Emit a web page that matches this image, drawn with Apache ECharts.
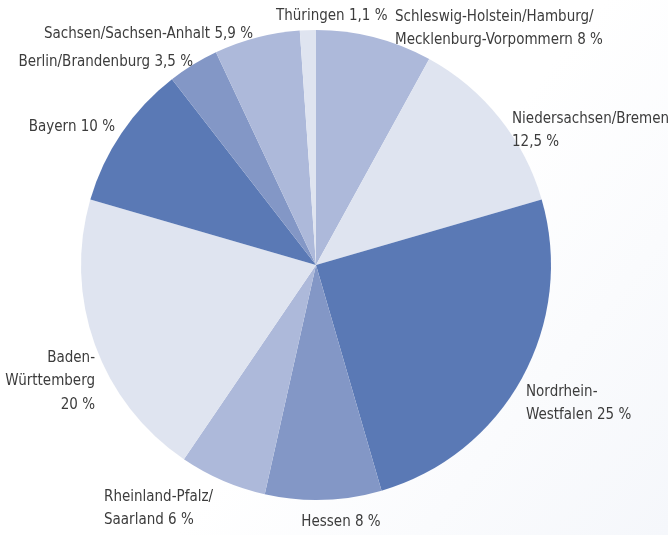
<!DOCTYPE html>
<html>
<head>
<meta charset="utf-8">
<script src="https://cdn.jsdelivr.net/npm/echarts@6/dist/echarts.min.js"></script>
<style>
html,body{margin:0;padding:0;background:#fff;}
#chart{width:668px;height:535px;}
</style>
</head>
<body>
<div id="chart"></div>
<script>
// Data
const categories = [
  'Schleswig-Holstein/Hamburg/\nMecklenburg-Vorpommern',
  'Niedersachsen/Bremen\n',
  'Nordrhein-\nWestfalen',
  'Hessen',
  'Rheinland-Pfalz/\nSaarland',
  'Baden-\nWürttemberg\n',
  'Bayern',
  'Berlin/Brandenburg',
  'Sachsen/Sachsen-Anhalt',
  'Thüringen'
];
const values = [8, 12.5, 25, 8, 6, 20, 10, 3.5, 5.9, 1.1];
const valueText = ['8', '12,5', '25', '8', '6', '20', '10', '3,5', '5,9', '1,1'];

// Styling / layout (not data)
const sliceColors = ['#adb9da', '#dfe4f0', '#5a79b5', '#8397c6', '#adb9da',
                     '#dfe4f0', '#5a79b5', '#8397c6', '#adb9da', '#dfe4f0'];
const labelSpots = [
  {x: 395, y: 5, align: 'left'},
  {x: 512, y: 107, align: 'left'},
  {x: 526, y: 380, align: 'left'},
  {x: 341, y: 510, align: 'center'},
  {x: 104, y: 485, align: 'left'},
  {x: 95, y: 346, align: 'right'},
  {x: 115, y: 115, align: 'right'},
  {x: 193, y: 50, align: 'right'},
  {x: 253, y: 22, align: 'right'},
  {x: 276, y: 4, align: 'left'}
];

const chart = echarts.init(document.getElementById('chart'), null, {renderer: 'canvas'});
chart.setOption({
  animation: false,
  backgroundColor: {
    type: 'linear', x: 0, y: 0, x2: 1, y2: 1,
    colorStops: [{offset: 0, color: '#ffffff'}, {offset: 0.55, color: '#ffffff'}, {offset: 1, color: '#f5f7fb'}]
  },
  series: [{
    type: 'pie',
    center: [316, 265],
    radius: 235,
    startAngle: 90,
    clockwise: true,
    data: categories.map((c, i) => ({
      name: c, value: values[i],
      itemStyle: {color: sliceColors[i]}
    })),
    label: {
      show: true,
      position: 'outside',
      overflow: 'none',
      alignTo: 'none',
      fontFamily: '"DejaVu Sans Condensed", sans-serif',
      fontSize: 15,
      lineHeight: 23.5,
      color: '#3c3c3c',
      formatter: p => {
        const n = p.name;
        const v = valueText[p.dataIndex] + ' %';
        return n.endsWith('\n') ? n + v : n + ' ' + v;
      }
    },
    labelLine: {show: false},
    labelLayout: p => {
      const s = labelSpots[p.dataIndex];
      return {x: s.x, y: s.y, align: s.align, verticalAlign: 'top', moveOverlap: false, hideOverlap: false};
    },
    emphasis: {disabled: true}
  }]
});
</script>
</body>
</html>
